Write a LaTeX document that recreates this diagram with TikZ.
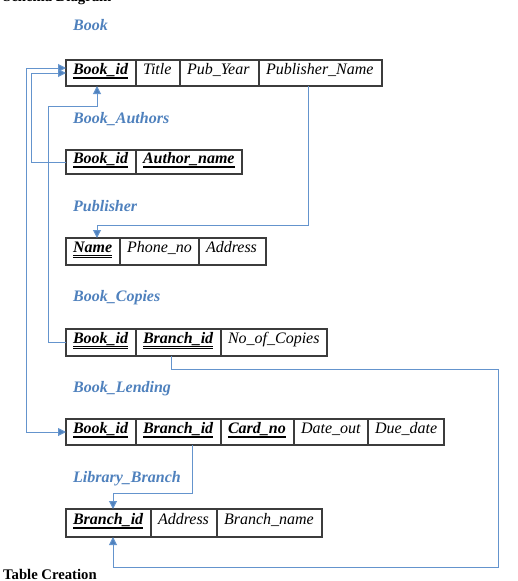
\documentclass[tikz,border=0pt]{standalone}
\usepackage{fontspec}
\setmainfont{Liberation Serif}
\usetikzlibrary{arrows.meta}
\definecolor{lblue}{RGB}{79,129,189}
\definecolor{lineblue}{RGB}{100,148,205}
\definecolor{cellborder}{RGB}{60,60,60}
\newsavebox\pkbox
\newcommand\pkey[1]{\sbox\pkbox{\bfseries\itshape #1}\usebox\pkbox\llap{\rule[-3.4pt]{\wd\pkbox}{0.8pt}}\llap{\rule[-5pt]{\wd\pkbox}{0.8pt}}}
\tikzset{
  cell/.style={draw=cellborder, line width=1.2pt, inner xsep=7pt, inner ysep=0pt, outer sep=0pt,
    anchor=north west, align=left, text height=9pt, text depth=7pt, font=\itshape},
  tlabel/.style={anchor=base west, text=lblue, font=\bfseries\itshape, inner sep=0pt},
  heading/.style={anchor=base west, font=\fontsize{14.7pt}{17pt}\selectfont\bfseries, inner sep=0pt},
  conn/.style={draw=lineblue, line width=1pt},
  arr/.style={-{Triangle[length=8pt,width=8pt,fill=lblue]}},
  darr/.style={{Triangle[length=8pt,width=8pt,fill=lblue]}-{Triangle[length=8pt,width=8pt,fill=lblue]}}
}
\begin{document}
\begin{tikzpicture}[x=1pt,y=-1pt]
\fontsize{16pt}{19pt}\selectfont
\useasboundingbox (0,0) rectangle (517,581);

\node[heading] (hschema) at (3,1) {Schema Diagram};
\node[heading] (htable) at (3,579.5) {Table Creation};

% Book
\node[tlabel] (lbook) at (73,30) {Book};
\node[cell, text width=56pt, minimum height=26pt] (b1) at (66,60) {\pkey{Book\_id}};
\node[cell, text width=30pt, minimum height=26pt] (b2) at (b1.north east) {Title};
\node[cell, text width=65pt, minimum height=26pt] (b3) at (b2.north east) {Pub\_Year};
\node[cell, text width=109pt, minimum height=26pt] (b4) at (b3.north east) {Publisher\_Name};

% Book_Authors
\node[tlabel] (lba) at (73,123) {Book\_Authors};
\node[cell, text width=56pt, minimum height=24pt] (ba1) at (66,150) {\pkey{Book\_id}};
\node[cell, text width=92pt, minimum height=24pt] (ba2) at (ba1.north east) {\pkey{Author\_name}};

% Publisher
\node[tlabel] (lp) at (73,211) {Publisher};
\node[cell, text width=40pt, minimum height=27pt] (p1) at (66,238) {\pkey{Name}};
\node[cell, text width=65pt, minimum height=27pt] (p2) at (p1.north east) {Phone\_no};
\node[cell, text width=53pt, minimum height=27pt] (p3) at (p2.north east) {Address};

% Book_Copies
\node[tlabel] (lbc) at (73,301) {Book\_Copies};
\node[cell, text width=56pt, minimum height=27pt] (bc1) at (66,329) {\pkey{Book\_id}};
\node[cell, text width=71pt, minimum height=27pt] (bc2) at (bc1.north east) {\pkey{Branch\_id}};
\node[cell, text width=92pt, minimum height=27pt] (bc3) at (bc2.north east) {No\_of\_Copies};

% Book_Lending
\node[tlabel] (lbl) at (73,392) {Book\_Lending};
\node[cell, text width=56pt, minimum height=26pt] (bl1) at (66,419) {\pkey{Book\_id}};
\node[cell, text width=71pt, minimum height=26pt] (bl2) at (bl1.north east) {\pkey{Branch\_id}};
\node[cell, text width=59pt, minimum height=26pt] (bl3) at (bl2.north east) {\pkey{Card\_no}};
\node[cell, text width=60pt, minimum height=26pt] (bl4) at (bl3.north east) {Date\_out};
\node[cell, text width=62pt, minimum height=26pt] (bl5) at (bl4.north east) {Due\_date};

% Library_Branch
\node[tlabel] (llb) at (73,482) {Library\_Branch};
\node[cell, text width=71pt, minimum height=28pt] (lb1) at (66,509) {\pkey{Branch\_id}};
\node[cell, text width=52pt, minimum height=28pt] (lb2) at (lb1.north east) {Address};
\node[cell, text width=91pt, minimum height=28pt] (lb3) at (lb2.north east) {Branch\_name};

% connectors
\draw[conn, arr] (ba1.west) -- ++(-35,0) |- (b1.west);
\draw[conn, darr] ([yshift=5pt]b1.west) -- ++(-40,0) |- (bl1.west);
\draw[conn, arr] (bc1.west) -- ++(-18,0) -- ++(0,-236.5) -| ([xshift=-4pt]b1.south);
\draw[conn, arr] ([xshift=-12.5pt]b4.south) -- ++(0,139) -| ([xshift=4pt]p1.north);
\draw[conn, arr] ([xshift=-7.5pt]bc2.south) -- ++(0,13) -- ++(327,0) -- ++(0,198) -| ([xshift=4.5pt]lb1.south);
\draw[conn, arr] ([xshift=13.5pt]bl2.south) -- ++(0,48) -| ([xshift=4.5pt]lb1.north);
\end{tikzpicture}
\end{document}
